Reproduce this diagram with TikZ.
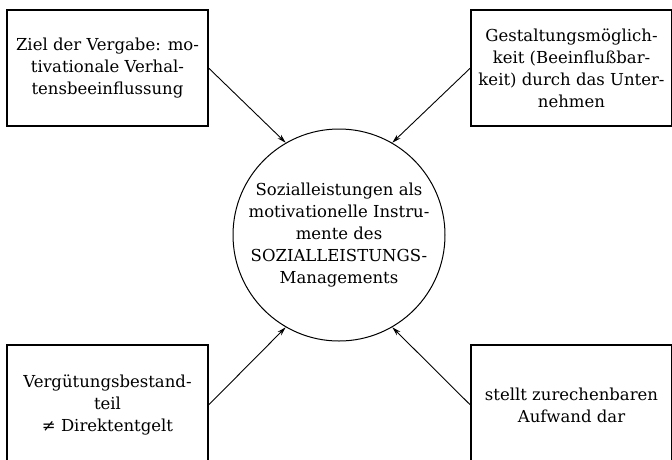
\documentclass[tikz,border=0pt]{standalone}
\usepackage{fontspec}
\setmainfont{DejaVu Serif}
\usetikzlibrary{arrows.meta}
\begin{document}
\begin{tikzpicture}[x=1pt,y=-1pt,
  txt/.style={align=center, inner sep=0pt, font=\fontsize{16.5}{22}\selectfont},
  box/.style={txt, draw, line width=1.2pt, minimum width=201pt, minimum height=116pt},
  hub/.style={txt, draw, circle, line width=1pt, minimum size=212pt},
  arr/.style={line width=0.9pt, -{Stealth[length=9pt,width=5pt]}}]
\useasboundingbox (0,0) rectangle (672,459);
\clip (0,0) rectangle (672,459);
\node[box] (tl) at (107.5,68) {Ziel der Vergabe: mo-\\tivationale Verhal-\\tensbeeinflussung};
\node[box] (tr) at (571.5,68) {Gestaltungsmöglich-\\keit (Beeinflußbar-\\keit) durch das Unter-\\nehmen};
\node[box, minimum height=120pt] (bl) at (107.5,405) {Vergütungsbestand-\\teil\\≠ Direktentgelt};
\node[box, minimum height=120pt] (br) at (571.5,405) {stellt zurechenbaren\\Aufwand dar};
\node[hub] (c) at (339,235) {Sozialleistungen als\\motivationelle Instru-\\mente des\\SOZIALLEISTUNGS-\\Managements};
\draw[arr] (tl.east) -- (c.120);
\draw[arr] (tr.west) -- (c.60);
\draw[arr] (bl.east) -- (c.240);
\draw[arr] (br.west) -- (c.300);
\end{tikzpicture}
\end{document}
